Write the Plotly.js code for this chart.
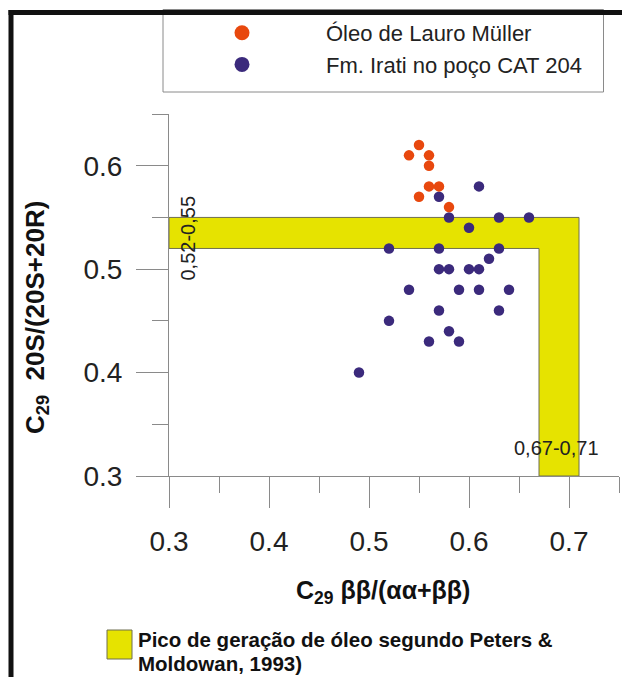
<!DOCTYPE html>
<html><head><meta charset="utf-8">
<script src="https://cdn.plot.ly/plotly-3.0.1.min.js"></script>
<style>html,body{margin:0;padding:0;background:#fff}#chart{width:622px;height:677px}</style>
</head><body><div id="chart"></div>
<script>
// ---- data ----
const oilName = 'Óleo de Lauro Müller';
const oilX = [0.55, 0.54, 0.56, 0.56, 0.56, 0.57, 0.55, 0.58];
const oilY = [0.62, 0.61, 0.61, 0.60, 0.58, 0.58, 0.57, 0.56];
const iratiName = 'Fm. Irati no poço CAT 204';
const iratiX = [0.57, 0.61, 0.58, 0.63, 0.66, 0.60, 0.52, 0.57, 0.63, 0.62, 0.57, 0.58, 0.60, 0.61, 0.54, 0.59, 0.61, 0.64, 0.57, 0.63, 0.52, 0.58, 0.56, 0.59, 0.49];
const iratiY = [0.57, 0.58, 0.55, 0.55, 0.55, 0.54, 0.52, 0.52, 0.52, 0.51, 0.50, 0.50, 0.50, 0.50, 0.48, 0.48, 0.48, 0.48, 0.46, 0.46, 0.45, 0.44, 0.43, 0.43, 0.40];
const peakSterane = [0.52, 0.55];   // C29 20S/(20S+20R) peak window
const peakBB = [0.67, 0.71];        // C29 bb/(aa+bb) peak window
const xTickVals = [0.3, 0.4, 0.5, 0.6, 0.7];
const xTickText = ['0.3', '0.4', '0.5', '0.6', '0.7'];
const yTickVals = [0.3, 0.4, 0.5, 0.6];
const yTickText = ['0.3', '0.4', '0.5', '0.6'];
const peakLabelY = '0,52-0,55';
const peakLabelX = '0,67-0,71';
const bandLegendLine1 = 'Pico de geração de óleo segundo Peters &';
const bandLegendLine2 = 'Moldowan, 1993)';
const xTitle = '<b>C<sub>29</sub> ββ/(αα+ββ)</b>';
const yTitle = '<b>C<sub>29</sub>  20S/(20S+20R)</b>';

// ---- layout geometry ----
const W = 622, H = 677;
const ML = 169, MT = 114, PW = 450, PH = 362;
const MR = W - ML - PW, MB = H - MT - PH;
const xRange = [0.3, 0.75], yRange = [0.3, 0.65];
const px = v => (v - ML) / PW;          // pixel x -> paper
const py = v => (MT + PH - v) / PH;     // pixel y -> paper

const ORANGE = '#E8480E', PURPLE = '#3B2A7C', YELLOW = '#E6E300', AX = '#8a8a8a';
const FONT = 'Liberation Sans, Arial, sans-serif';

const x0 = xRange[0], y0 = yRange[0];
const bandPath = `M ${x0},${peakSterane[1]} L ${peakBB[1]},${peakSterane[1]} L ${peakBB[1]},${y0} ` +
                 `L ${peakBB[0]},${y0} L ${peakBB[0]},${peakSterane[0]} L ${x0},${peakSterane[0]} Z`;

const traces = [
  {x: iratiX, y: iratiY, type: 'scatter', mode: 'markers', name: iratiName, showlegend: false,
   marker: {color: PURPLE, size: 10.5}, cliponaxis: false},
  {x: oilX, y: oilY, type: 'scatter', mode: 'markers', name: oilName, showlegend: false,
   marker: {color: ORANGE, size: 10.5}, cliponaxis: false},
  {x: [null], y: [null], type: 'scatter', mode: 'markers', name: oilName, showlegend: true,
   marker: {color: ORANGE, size: 15}},
  {x: [null], y: [null], type: 'scatter', mode: 'markers', name: iratiName, showlegend: true,
   marker: {color: PURPLE, size: 15}}
];

const layout = {
  width: W, height: H,
  margin: {l: ML, r: MR, t: MT, b: MB, pad: 0},
  paper_bgcolor: '#fff', plot_bgcolor: 'rgba(0,0,0,0)',
  font: {family: FONT, color: '#222'},
  showlegend: true,
  legend: {
    x: px(158), y: py(12), xanchor: 'left', yanchor: 'top',
    bgcolor: 'rgba(0,0,0,0)', borderwidth: 0,
    font: {family: FONT, size: 22, color: '#222'},
    itemwidth: 158, traceorder: 'normal', itemclick: false
  },
  xaxis: {
    range: xRange, showgrid: false, zeroline: false,
    showline: true, linecolor: AX, linewidth: 1,
    tickmode: 'array', tickvals: xTickVals, ticktext: xTickText,
    ticks: 'outside', ticklen: 31, tickwidth: 1, tickcolor: AX,
    minor: {dtick: 0.05, tick0: 0.3, ticks: 'outside', ticklen: 16, tickwidth: 1, tickcolor: AX},
    tickfont: {family: FONT, size: 28, color: '#222'},
    ticklabelstandoff: 9
  },
  yaxis: {
    range: yRange, showgrid: false, zeroline: false,
    showline: true, linecolor: AX, linewidth: 1,
    tickmode: 'array', tickvals: yTickVals, ticktext: yTickText,
    ticks: 'outside', ticklen: 32, tickwidth: 1, tickcolor: AX,
    minor: {dtick: 0.05, tick0: 0.3, ticks: 'outside', ticklen: 16, tickwidth: 1, tickcolor: AX},
    tickfont: {family: FONT, size: 28, color: '#222'},
    ticklabelstandoff: 8
  },
  shapes: [
    {type: 'path', path: bandPath, xref: 'x', yref: 'y', layer: 'below',
     fillcolor: YELLOW, line: {color: '#6f6f50', width: 1}},
    // legend box
    {type: 'rect', xref: 'paper', yref: 'paper', x0: px(163), x1: px(603.5), y0: py(92), y1: py(9.5),
     fillcolor: '#fff', line: {color: AX, width: 1}, layer: 'below'},
    // outer black frame (top & left)
    {type: 'line', xref: 'paper', yref: 'paper', x0: px(8.5), x1: px(W + 5), y0: py(12.5), y1: py(12.5),
     line: {color: '#111', width: 5}, layer: 'above'},
    {type: 'line', xref: 'paper', yref: 'paper', x0: px(11), x1: px(11), y0: py(10), y1: py(H + 5),
     line: {color: '#111', width: 5}, layer: 'above'},
    // band legend swatch
    {type: 'rect', xref: 'paper', yref: 'paper', x0: px(107), x1: px(132), y0: py(659), y1: py(630),
     fillcolor: YELLOW, line: {color: '#6f6f50', width: 1}}
  ],
  annotations: [
    // axis titles
    {text: xTitle, xref: 'paper', yref: 'paper', x: px(383), y: py(592),
     showarrow: false, xanchor: 'center', yanchor: 'middle', font: {family: FONT, size: 25, color: '#111'}},
    {text: yTitle, xref: 'paper', yref: 'paper', x: px(36), y: py(318), textangle: -90,
     showarrow: false, xanchor: 'center', yanchor: 'middle', font: {family: FONT, size: 26, color: '#111'}},
    // window labels
    {text: peakLabelY, xref: 'paper', yref: 'paper', x: px(187), y: py(238.5), textangle: -90,
     showarrow: false, xanchor: 'center', yanchor: 'middle', font: {family: FONT, size: 20, color: '#222'}},
    {text: peakLabelX, xref: 'paper', yref: 'paper', x: px(556.5), y: py(448),
     showarrow: false, xanchor: 'center', yanchor: 'middle', font: {family: FONT, size: 20, color: '#222'}},
    // band legend
    {text: '<b>' + bandLegendLine1 + '</b>', xref: 'paper', yref: 'paper', x: px(136), y: py(639),
     showarrow: false, xanchor: 'left', yanchor: 'middle', font: {family: FONT, size: 20.5, color: '#111'}},
    {text: '<b>' + bandLegendLine2 + '</b>', xref: 'paper', yref: 'paper', x: px(136), y: py(663),
     showarrow: false, xanchor: 'left', yanchor: 'middle', font: {family: FONT, size: 20.5, color: '#111'}}
  ]
};

Plotly.newPlot('chart', traces, layout, {displayModeBar: false, staticPlot: true});
</script>
</body></html>
